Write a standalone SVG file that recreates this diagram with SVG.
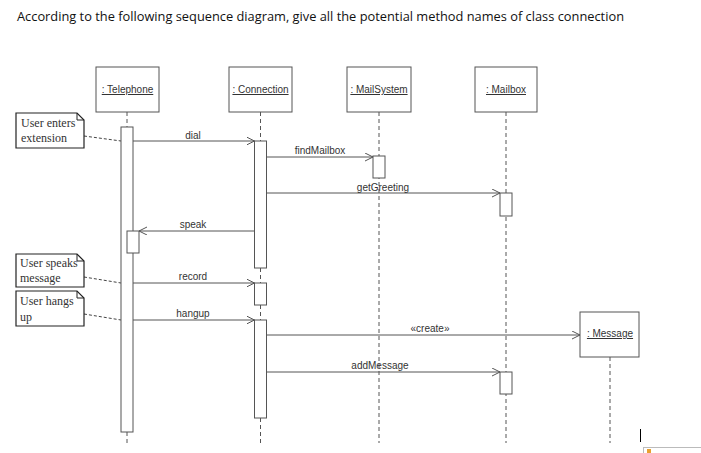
<svg xmlns="http://www.w3.org/2000/svg" width="701" height="453" viewBox="0 0 701 453">
<defs>
<marker id="open" markerWidth="10" markerHeight="10" refX="8" refY="4" orient="auto" markerUnits="userSpaceOnUse">
<path d="M0,0 L8,4 L0,8" fill="none" stroke="#555" stroke-width="1"/>
</marker>
</defs>
<style>
.title{font-family:"Open Sans","Liberation Sans",Arial,sans-serif;font-size:13px;fill:#111}
.box{fill:#fff;stroke:#555;stroke-width:1}
.obj{font-family:"Liberation Sans",Arial,sans-serif;font-size:10px;fill:#333;text-decoration:underline;text-anchor:middle}
.life{stroke:#555;stroke-width:1;stroke-dasharray:4 3;fill:none}
.act{fill:#fff;stroke:#555;stroke-width:1}
.msg{stroke:#555;stroke-width:1;fill:none;marker-end:url(#open)}
.lbl{font-family:"Liberation Sans",Arial,sans-serif;font-size:10px;fill:#333;text-anchor:middle}
.note{fill:#fff;stroke:#222;stroke-width:1.2}
.ntxt{font-family:"Liberation Serif","Times New Roman",serif;font-size:12px;fill:#333}
.ndash{stroke:#444;stroke-width:1;stroke-dasharray:3 2;fill:none}
</style>
<rect width="701" height="453" fill="#fff"/>
<text class="title" x="17" y="21" textLength="607" lengthAdjust="spacingAndGlyphs">According to the following sequence diagram, give all the potential method names of class connection</text>

<g id="connectors">
<line class="life" x1="127" y1="112" x2="127" y2="127"/>
<line class="life" x1="127" y1="432" x2="127" y2="443"/>
<line class="life" x1="260.5" y1="112" x2="260.5" y2="141"/>
<line class="life" x1="260.5" y1="268" x2="260.5" y2="283"/>
<line class="life" x1="260.5" y1="305" x2="260.5" y2="320"/>
<line class="life" x1="260.5" y1="418" x2="260.5" y2="443"/>
<line class="life" x1="379" y1="112" x2="379" y2="443"/>
<line class="life" x1="506" y1="112" x2="506" y2="443"/>
<line class="life" x1="610" y1="357" x2="610" y2="443"/>
<line class="ndash" x1="84" y1="136" x2="121" y2="141"/>
<line class="ndash" x1="84" y1="277" x2="121" y2="283"/>
<line class="ndash" x1="84" y1="314" x2="121" y2="320"/>
</g>

<g id="activations">
<rect class="act" x="121" y="127" width="12" height="305"/>
<rect class="act" x="127" y="231" width="12" height="22"/>
<rect class="act" x="254.5" y="141" width="12" height="127"/>
<rect class="act" x="254.5" y="283" width="12" height="22"/>
<rect class="act" x="254.5" y="320" width="12" height="98"/>
<rect class="act" x="373" y="156" width="12" height="22"/>
<rect class="act" x="500" y="193" width="12" height="23"/>
<rect class="act" x="500" y="372" width="12" height="22"/>
</g>

<g id="messages">
<line class="msg" x1="133" y1="141" x2="254.5" y2="141"/>
<text class="lbl" x="193" y="139">dial</text>
<line class="msg" x1="266.5" y1="157" x2="373" y2="157"/>
<text class="lbl" x="320" y="154">findMailbox</text>
<line class="msg" x1="266.5" y1="193" x2="500" y2="193"/>
<text class="lbl" x="383" y="191">getGreeting</text>
<line class="msg" x1="254.5" y1="231" x2="139" y2="231"/>
<text class="lbl" x="193" y="228">speak</text>
<line class="msg" x1="133" y1="283" x2="254.5" y2="283"/>
<text class="lbl" x="193" y="280">record</text>
<line class="msg" x1="133" y1="320" x2="254.5" y2="320"/>
<text class="lbl" x="193" y="317">hangup</text>
<line class="msg" x1="266.5" y1="335" x2="580" y2="335"/>
<text class="lbl" x="430" y="332" font-size="9">«create»</text>
<line class="msg" x1="266.5" y1="372" x2="500" y2="372"/>
<text class="lbl" x="380" y="369">addMessage</text>
</g>

<g id="telephone">
<rect class="box" x="96" y="67" width="63" height="45"/>
<text class="obj" x="127.5" y="93">: Telephone</text>
</g>
<g id="connection">
<rect class="box" x="229" y="67" width="63" height="45"/>
<text class="obj" x="260.5" y="93">: Connection</text>
</g>
<g id="mailsystem">
<rect class="box" x="347" y="67" width="64" height="45"/>
<text class="obj" x="379" y="93">: MailSystem</text>
</g>
<g id="mailbox">
<rect class="box" x="475" y="67" width="62" height="45"/>
<text class="obj" x="506" y="93">: Mailbox</text>
</g>
<g id="message">
<rect class="box" x="580" y="312" width="59" height="45"/>
<text class="obj" x="610" y="337">: Message</text>
</g>

<g id="note-enters">
<path class="note" d="M16,113 H77 L84,120 V148 H16 Z"/>
<path d="M77,113 V120 H84" fill="none" stroke="#222" stroke-width="1"/>
<text class="ntxt" x="21" y="127">User enters</text>
<text class="ntxt" x="21" y="142">extension</text>
</g>
<g id="note-speaks">
<path class="note" d="M16,254 H77 L84,261 V287 H16 Z"/>
<path d="M77,254 V261 H84" fill="none" stroke="#222" stroke-width="1"/>
<text class="ntxt" x="20" y="267">User speaks</text>
<text class="ntxt" x="20" y="282">message</text>
</g>
<g id="note-hangs">
<path class="note" d="M16,291 H77 L84,298 V326 H16 Z"/>
<path d="M77,291 V298 H84" fill="none" stroke="#222" stroke-width="1"/>
<text class="ntxt" x="20" y="305">User hangs</text>
<text class="ntxt" x="20" y="321">up</text>
</g>

<line x1="640.5" y1="429" x2="640.5" y2="442" stroke="#000" stroke-width="1"/>
<rect x="643.5" y="447.5" width="60" height="8" fill="#fff" stroke="#bbb"/>
<rect x="647" y="449" width="4" height="4" fill="#e8a030"/>
</svg>
